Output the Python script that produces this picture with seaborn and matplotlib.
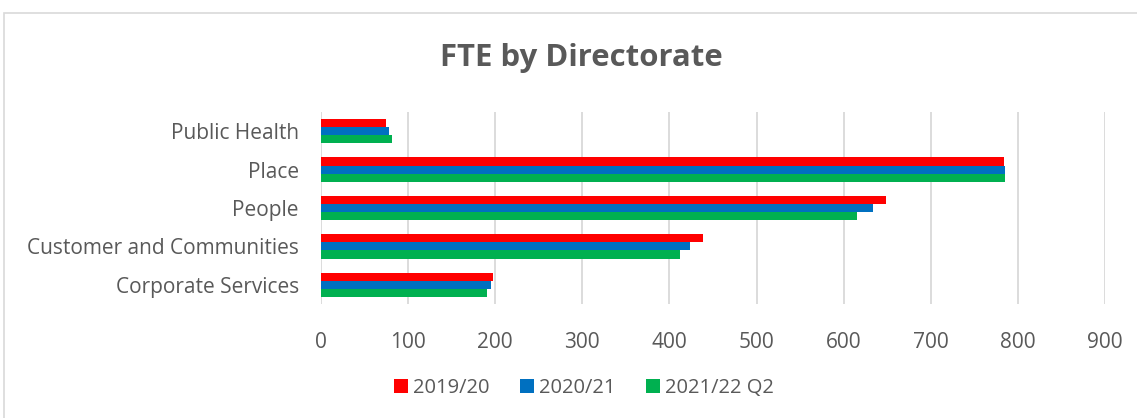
import pandas as pd
import matplotlib.pyplot as plt
import seaborn as sns
from matplotlib.patches import Rectangle

directorates = ['Public Health', 'Place', 'People', 'Customer and Communities', 'Corporate Services']
periods = ['2019/20', '2020/21', '2021/22 Q2']
fte_2019_20 = [75, 784, 649, 439, 198]
fte_2020_21 = [78, 785, 634, 424, 195]
fte_2021_22_q2 = [81, 785, 615, 412, 190]
x_ticks = [0, 100, 200, 300, 400, 500, 600, 700, 800, 900]

cores = ['#ff0000', '#0070c0', '#00b050']
cinza = '#595959'

linhas = []
for periodo, valores in zip(periods, [fte_2019_20, fte_2020_21, fte_2021_22_q2]):
    for d, v in zip(directorates, valores):
        linhas.append({'Directorate': d, 'Periodo': periodo, 'FTE': v})
df = pd.DataFrame(linhas)

sns.set_theme(style='white')
plt.rcParams['font.family'] = ['Open Sans', 'DejaVu Sans']

fig = plt.figure(figsize=(11.37, 4.18), dpi=100)
ax = fig.add_axes([321 / 1137, 1 - 304 / 418, (1105 - 321) / 1137, 192 / 418])

sns.barplot(data=df, x='FTE', y='Directorate', hue='Periodo', order=directorates,
            hue_order=periods, palette=cores, orient='h', width=0.64, gap=0,
            saturation=1, linewidth=0, ax=ax, legend=True)

ax.set_xlim(0, 900)
ax.set_xticks(x_ticks)
ax.set_xlabel('')
ax.set_ylabel('')
for s in ax.spines.values():
    s.set_visible(False)
ax.grid(True, axis='x', color='#d9d9d9', linewidth=1.3)
ax.set_axisbelow(True)
ax.tick_params(axis='x', length=0, pad=20, labelsize=15, labelcolor=cinza)
ax.tick_params(axis='y', length=0, pad=16, labelsize=15, labelcolor=cinza)

ax.legend(loc='center', bbox_to_anchor=(584 / 1137, 1 - 388 / 418),
          bbox_transform=fig.transFigure, ncol=3, frameon=False,
          fontsize=14.5, labelcolor=cinza, handlelength=0.7, handleheight=0.7,
          handletextpad=0.25, columnspacing=1.5)

fig.text(581 / 1137, 1 - 58 / 418, 'FTE by Directorate', ha='center', va='center',
         fontsize=22.4, fontweight='bold', color=cinza)

fig.patches.append(Rectangle((4 / 1137, -0.1), 1.2, 1 - 13 / 418 + 0.1,
                             transform=fig.transFigure, fill=False,
                             edgecolor='#d9d9d9', linewidth=1.2))

fig.savefig('out.png', dpi=100, facecolor='white')
